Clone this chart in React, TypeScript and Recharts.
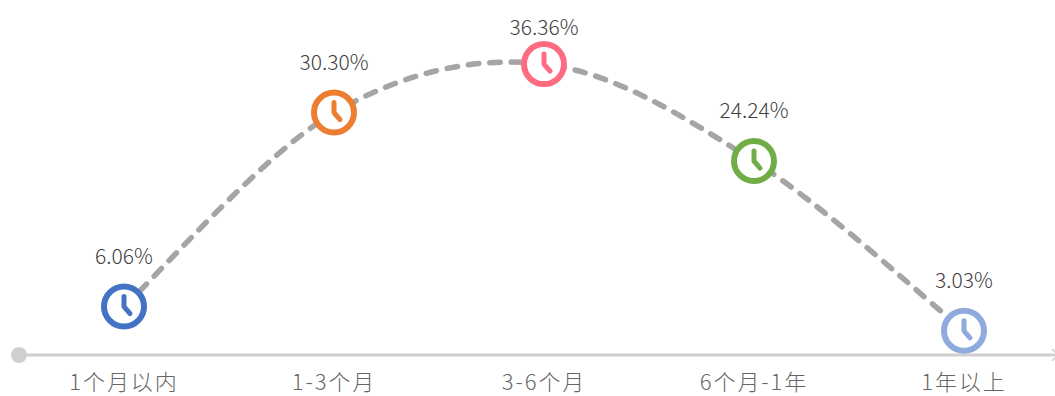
import React from 'react';
import { LineChart, Line, XAxis, YAxis, LabelList, usePlotArea } from 'recharts';

const categories = ['1个月以内', '1-3个月', '3-6个月', '6个月-1年', '1年以上'];
const shares = [6.06, 30.3, 36.36, 24.24, 3.03];
const labels = ['6.06%', '30.30%', '36.36%', '24.24%', '3.03%'];
const markerColors = ['#4472C4', '#ED7D31', '#FF6B81', '#70AD47', '#8FAADC'];

const rows = categories.map((name, i) => ({ name, value: shares[i], label: labels[i], color: markerColors[i] }));
const peak = Math.max(...shares);
const FONT = '"Noto Sans CJK SC", "Noto Sans", sans-serif';

// Catmull-Rom style smoothing, like a spreadsheet's smoothed line
function smoothCurve(context: any) {
  let pts: [number, number][] = [];
  return {
    areaStart() {},
    areaEnd() {},
    lineStart() { pts = []; },
    point(x: number, y: number) { pts.push([+x, +y]); },
    lineEnd() {
      pts.forEach((p, i) => {
        if (i === 0) { context.moveTo(p[0], p[1]); return; }
        const p0 = pts[i - 2] ?? pts[i - 1];
        const p1 = pts[i - 1];
        const p3 = pts[i + 1] ?? p;
        context.bezierCurveTo(
          p1[0] + (p[0] - p0[0]) / 6, p1[1] + (p[1] - p0[1]) / 6,
          p[0] - (p3[0] - p1[0]) / 6, p[1] - (p3[1] - p1[1]) / 6,
          p[0], p[1],
        );
      });
    },
  };
}

function ClockDot(props: any) {
  const { cx, cy, payload, index } = props;
  const c = payload.color;
  return (
    <g key={index}>
      <circle cx={cx} cy={cy} r={20} fill="#fff" stroke={c} strokeWidth={6} />
      <path
        d={`M${cx} ${cy - 10} L${cx} ${cy} L${cx + 6} ${cy + 7}`}
        fill="none" stroke={c} strokeWidth={5} strokeLinecap="round" strokeLinejoin="round"
      />
    </g>
  );
}

function PercentLabel(props: any) {
  const { x, y, value, index } = props;
  const lift = shares[index] === peak ? 38 : 52;
  return (
    <text x={x} y={y - lift} textAnchor="middle" dominantBaseline="central" fill="#404040"
      fontFamily={FONT} fontWeight={300} fontSize={21}>
      {value}
    </text>
  );
}

function AxisEnds() {
  const area = usePlotArea();
  if (!area) return null;
  const y = area.y + area.height;
  return (
    <g>
      <circle cx={area.x} cy={y} r={8} fill="#D0CECE" />
      <path d={`M1052 ${y - 6} L1058 ${y} L1052 ${y + 6}`} fill="none" stroke="#D0CECE" strokeWidth={1.5} />
    </g>
  );
}

export default function App() {
  return (
    <div style={{ position: 'absolute', left: 0, top: 0, width: 1055, height: 396, overflow: 'hidden', background: '#fff' }}>
      <LineChart width={1100} height={396} data={rows} margin={{ top: 35, right: 31, bottom: 0, left: 19 }}>
        <YAxis hide domain={[0, 40]} />
        <XAxis
          dataKey="name"
          interval={0}
          height={41}
          padding={{ left: 105, right: 105 }}
          axisLine={{ stroke: '#D0CECE', strokeWidth: 3 }}
          tickLine={false}
          tickMargin={13}
          tick={{ fill: '#666666', fontSize: 22, fontFamily: FONT, fontWeight: 300, letterSpacing: 1.9 }}
        />
        <AxisEnds />
        <Line
          dataKey="value"
          type={smoothCurve as any}
          stroke="#A5A5A5"
          strokeWidth={5.5}
          strokeDasharray="10.5 11"
          strokeLinecap="round"
          dot={<ClockDot />}
          activeDot={false}
          isAnimationActive={false}
        >
          <LabelList dataKey="label" content={<PercentLabel />} />
        </Line>
      </LineChart>
    </div>
  );
}
